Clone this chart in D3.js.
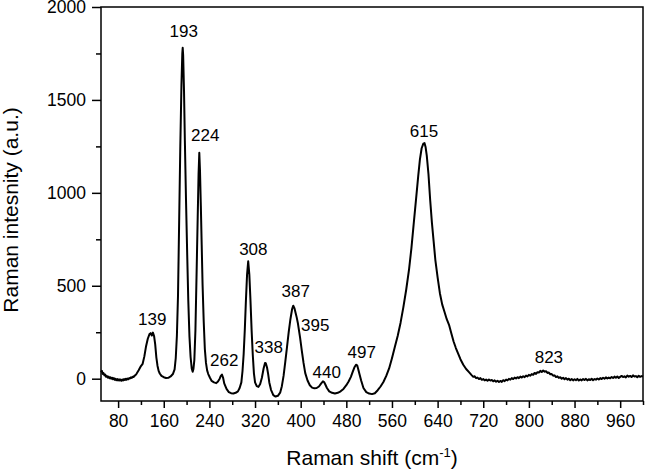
<!DOCTYPE html>
<html>
<head>
<meta charset="utf-8">
<script src="https://cdn.jsdelivr.net/npm/d3@7/dist/d3.min.js"></script>
<style>
  html, body { margin: 0; padding: 0; background: #fff; }
  svg { display: block; }
  text { font-family: "Liberation Sans", Arial, sans-serif; fill: #000; }
</style>
</head>
<body>
<svg id="chart" width="646" height="470"></svg>
<script>
// Spectrum: [Raman shift (cm^-1), Raman intensity (a.u.)]
const spectrum = [
  [50,35],[51.5,42],[53,26],[54.5,30],[56,18],[57.5,22],[59,10],[60.5,14],[62,6],[63.5,11],[65,3],[66.5,8],[68,0],[69.5,5],
  [71,-3],[72.5,3],[74,-6],[75.5,0],[77,-8],[78.5,-2],[80,-9],[81.5,-3],[83,-10],[84.5,-4],[86,-11],[87.5,-5],[89,-9],[90.5,-2],
  [92,-7],[93.5,0],[95,-6],[96.5,1],[98,-3],[99.5,3],[101,1],[102.5,7],[104,4],[105.5,10],[107,9],[108.5,15],[110,18],
  [112,25],[116,45],[120,68],[123,80],[126,120],[129,175],[132,215],[135,240],[137,245],[139,232],[141,248],[143,230],[145,185],
  [147,115],[149,70],[151,42],[153,28],[156,15],[160,8],[164,4],[168,5],[172,12],[176,25],[179,50],[181,110],[183,230],[185,450],
  [187,850],[189,1250],[191,1580],[192.5,1750],[193.2,1781],[194,1740],[195.5,1550],[197,1280],[199,961],[201,680],[203,420],
  [205,230],[207,118],[209,55],[210.7,37],[212,52],[213.6,100],[215.5,260],[217.5,560],[219.5,870],[221,1100],[222.3,1216],
  [223.5,1120],[225,930],[226.5,720],[228,510],[230,310],[232,160],[234,85],[236,45],[238,25],[241,5],[244,-12],[248,-20],
  [252,-24],[255,-15],[258,0],[260,15],[262,22],[264,5],[266,-25],[270,-55],[274,-72],[278,-78],[282,-80],[286,-76],[290,-68],
  [293,-50],[296,-20],[298,40],[300,130],[302,260],[304,420],[306,560],[308,632],[310,560],[312,420],[314,260],[316,130],[318,30],
  [320,-20],[323,-40],[326,-44],[329,-28],[332,5],[335,55],[337.5,85],[339,82],[341,60],[343,25],[345,-20],[348,-60],[352,-88],
  [356,-96],[360,-92],[364,-75],[367,-40],[370,15],[373,90],[376,170],[379,250],[382,320],[385,375],[387,393],[389,380],[391,355],
  [393,330],[395,300],[397,260],[399,220],[402,150],[405,85],[408,30],[412,-10],[416,-35],[420,-48],[424,-52],[428,-50],[432,-42],
  [436,-25],[439,-14],[441,-18],[443,-30],[446,-50],[450,-68],[455,-76],[460,-80],[465,-76],[470,-68],[475,-55],[480,-35],
  [484,-15],[488,10],[491,35],[494,60],[497,75],[499,72],[501,50],[503,25],[506,-10],[510,-50],[515,-72],[520,-80],[525,-83],
  [530,-78],[535,-62],[540,-42],[545,-18],[550,15],[555,55],[560,110],[565,170],[570,230],[575,300],[580,385],[585,480],[590,590],
  [594,700],[598,830],[602,960],[606,1090],[609,1180],[612,1240],[615,1265],[617,1268],[619,1245],[621,1200],[624,1100],[627,960],
  [630,840],[633,740],[636,640],[640,545],[644,460],[648,400],[652,360],[656,320],[660,290],[664,245],[668,200],[672,165],[676,135],
  [680,105],[685,75],[690,52],[695,35],
  [700,18],[702.5,10],[705,13],[707.5,3],[710,6],[712.5,-2],[715,3],[717.5,-6],[720,-2],[722.5,-9],[725,-5],[727.5,-11],[730,-4],
  [732.5,-10],[735,-7],[737.5,-14],[740,-9],[742.5,-16],[745,-11],[747.5,-18],[750,-12],[752.5,-17],[755,-8],[757.5,-13],[760,-5],
  [762.5,-9],[765,-1],[767.5,-5],[770,3],[772.5,-2],[775,6],[777.5,1],[780,8],[782.5,3],[785,11],[787.5,6],[790,13],[792.5,8],
  [795,17],[797.5,12],[800,21],[802.5,16],[805,25],[807.5,21],[810,31],[812.5,26],[815,35],[817.5,33],[820,42],[822.5,36],[825,44],
  [827.5,38],[830,40],[832.5,31],[835,33],[837.5,24],[840,25],[842.5,16],[845,18],[847.5,9],[850,13],[852.5,4],[855,8],[857.5,0],
  [860,5],[862.5,-3],[865,3],[867.5,-5],[870,0],[872.5,-8],[875,-2],[877.5,-9],[880,-3],[882.5,-8],[885,-1],[887.5,-10],[890,-4],
  [892.5,-9],[895,-2],[897.5,-7],[900,-1],[902.5,-9],[905,-3],[907.5,-7],[910,0],[912.5,-8],[915,-2],[917.5,-5],[920,1],[922.5,-4],
  [925,3],[927.5,-2],[930,5],[932.5,0],[935,7],[937.5,1],[940,6],[942.5,2],[945,9],[947.5,4],[950,11],[952.5,5],[955,12],[957.5,4],
  [960,10],[962.5,15],[965,9],[967.5,13],[970,7],[972.5,17],[975,11],[977.5,15],[980,9],[982.5,18],[985,12],[987.5,14],[990,8],
  [992.5,16],[995,10],[997.5,14],[1000,12]
];
// Peak annotations: label text, anchor shift and anchor intensity (data units)
const peakLabels = ["193","224","139","262","308","338","387","395","440","497","615","823"];
const peakLabelShift = [195,232.8,139.9,266,317,344,391.3,425.6,445.6,507,616,835];
const peakLabelLevel = [1840,1280,290,66,665,138,437,256,5,112,1302,82];

const xMajor = [80,160,240,320,400,480,560,640,720,800,880,960];
const xMinor = [120,200,280,360,440,520,600,680,760,840,920,1000];
const yMajor = [0,500,1000,1500,2000];
const yMinor = [250,750,1250,1750];

const W = 646, H = 470;
const margin = {left: 101, top: 7, right: 3, bottom: 69};
const iw = W - margin.left - margin.right;
const ih = H - margin.top - margin.bottom;
const FONT = '"Liberation Sans", Arial, sans-serif';

const svg = d3.select("#chart");
const g = svg.append("g").attr("transform", `translate(${margin.left},${margin.top})`);

const x = d3.scaleLinear().domain([50, 1000]).range([0, iw]);
const y = d3.scaleLinear().domain([-120, 2000]).range([ih, 0]);

// curve
g.append("path")
  .datum(spectrum)
  .attr("fill", "none")
  .attr("stroke", "#000")
  .attr("stroke-width", 2)
  .attr("stroke-linejoin", "round")
  .attr("d", d3.line().x(d => x(d[0])).y(d => y(d[1])));

// axes
const xAxis = g.append("g").attr("transform", `translate(0,${ih})`)
  .call(d3.axisBottom(x).tickValues(xMajor).tickSize(7).tickPadding(7).tickFormat(d3.format("d")));
const xAxisMinor = g.append("g").attr("transform", `translate(0,${ih})`)
  .call(d3.axisBottom(x).tickValues(xMinor).tickSize(4).tickFormat(""));
const yAxis = g.append("g")
  .call(d3.axisLeft(y).tickValues(yMajor).tickSize(9).tickPadding(6).tickFormat(d3.format("d")));
const yAxisMinor = g.append("g")
  .call(d3.axisLeft(y).tickValues(yMinor).tickSize(5).tickFormat(""));

[xAxis, xAxisMinor, yAxis, yAxisMinor].forEach(a => {
  a.select(".domain").remove();
  a.selectAll("line").attr("stroke", "#000").attr("stroke-width", 1.5);
  a.selectAll("text").attr("font-size", 17.5).attr("font-family", FONT).attr("fill", "#000");
});

// frame
g.append("rect")
  .attr("x", 0).attr("y", 0).attr("width", iw).attr("height", ih)
  .attr("fill", "none").attr("stroke", "#000").attr("stroke-width", 1.5);

// peak labels
g.selectAll("text.peak")
  .data(peakLabels)
  .enter().append("text")
  .attr("class", "peak")
  .attr("x", (d, i) => x(peakLabelShift[i]))
  .attr("y", (d, i) => y(peakLabelLevel[i]))
  .attr("text-anchor", "middle")
  .attr("font-size", 17)
  .text(d => d);

// axis titles
const xt = svg.append("text")
  .attr("x", margin.left + iw / 2)
  .attr("y", 465)
  .attr("text-anchor", "middle")
  .attr("font-size", 21);
xt.append("tspan").text("Raman shift (cm");
xt.append("tspan").attr("font-size", 13).attr("dy", -8).text("-1");
xt.append("tspan").attr("dy", 8).text(")");

svg.append("text")
  .attr("transform", `translate(18,${margin.top + ih / 2 + 6}) rotate(-90)`)
  .attr("text-anchor", "middle")
  .attr("font-size", 21)
  .text("Raman intesnity (a.u.)");
</script>
</body>
</html>
